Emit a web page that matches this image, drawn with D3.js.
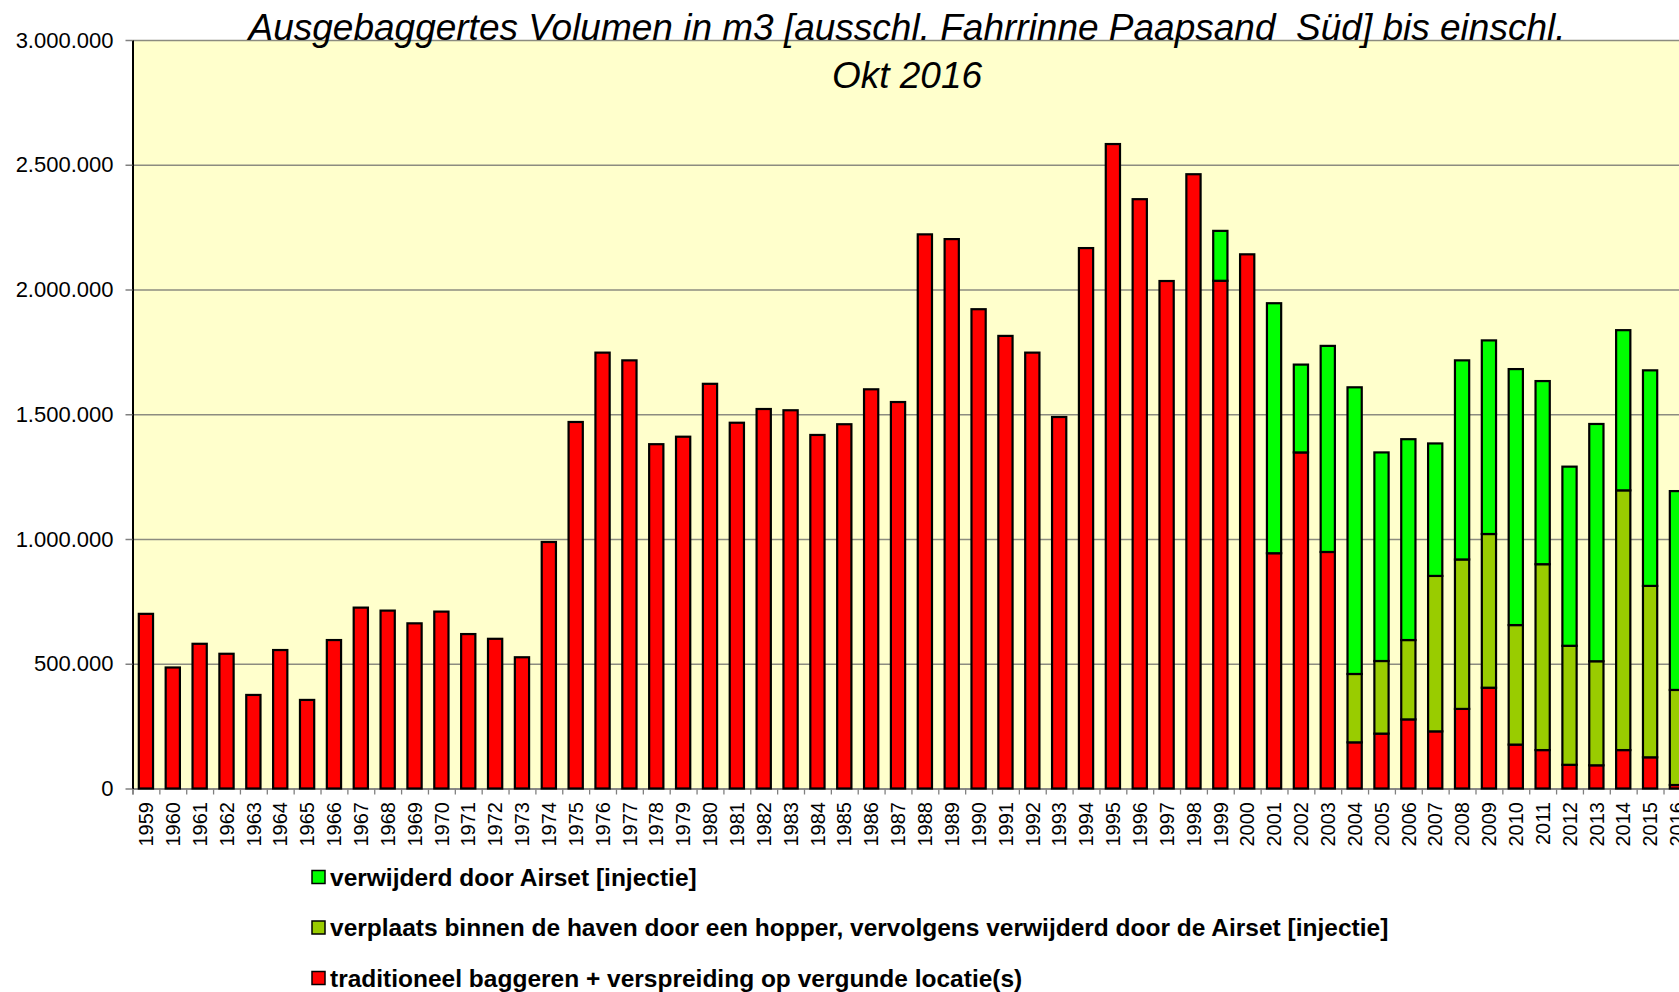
<!DOCTYPE html>
<html>
<head>
<meta charset="utf-8">
<script src="https://cdn.jsdelivr.net/npm/d3@7"></script>
<style>
    body { margin: 0; background: #ffffff; }
    svg { display: block; font-family: "Liberation Sans", Arial, sans-serif; }
</style>
</head>
<body>
<div id="chart-container"></div>
<script>
const years = [
    1959, 1960, 1961, 1962, 1963, 1964, 1965, 1966, 1967, 1968,
    1969, 1970, 1971, 1972, 1973, 1974, 1975, 1976, 1977, 1978,
    1979, 1980, 1981, 1982, 1983, 1984, 1985, 1986, 1987, 1988,
    1989, 1990, 1991, 1992, 1993, 1994, 1995, 1996, 1997, 1998,
    1999, 2000, 2001, 2002, 2003, 2004, 2005, 2006, 2007, 2008,
    2009, 2010, 2011, 2012, 2013, 2014, 2015, 2016
];

// traditioneel baggeren (red, bottom)
const traditioneel = [
    700000, 485000, 580000, 540000, 375000, 555000, 355000, 595000, 725000, 713000,
    662000, 709000, 619000, 600000, 526000, 988000, 1469000, 1747000, 1716000, 1380000,
    1410000, 1622000, 1466000, 1521000, 1516000, 1417000, 1460000, 1600000, 1549000, 2221000,
    2202000, 1921000, 1814000, 1747000, 1489000, 2166000, 2583000, 2362000, 2034000, 2462000,
    2035000, 2141000, 943000, 1347000, 948000, 185000, 220000, 277000, 229000, 319000,
    404000, 176000, 154000, 95000, 93000, 154000, 125000, 14000
];

// verplaatst door hopper (olive, middle)
const hopper = [
    0, 0, 0, 0, 0, 0, 0, 0, 0, 0,
    0, 0, 0, 0, 0, 0, 0, 0, 0, 0,
    0, 0, 0, 0, 0, 0, 0, 0, 0, 0,
    0, 0, 0, 0, 0, 0, 0, 0, 0, 0,
    0, 0, 0, 0, 0, 274000, 291000, 318000, 623000, 599000,
    616000, 479000, 745000, 477000, 417000, 1041000, 687000, 381000
];

// verwijderd door Airset (green, top)
const airset = [
    0, 0, 0, 0, 0, 0, 0, 0, 0, 0,
    0, 0, 0, 0, 0, 0, 0, 0, 0, 0,
    0, 0, 0, 0, 0, 0, 0, 0, 0, 0,
    0, 0, 0, 0, 0, 0, 0, 0, 0, 0,
    200000, 0, 1002000, 352000, 826000, 1149000, 836000, 805000, 531000, 798000,
    776000, 1026000, 734000, 718000, 951000, 642000, 864000, 797000
];

const yTicks = [0, 500000, 1000000, 1500000, 2000000, 2500000, 3000000];
const titleLines = [
    "Ausgebaggertes Volumen in m3 [ausschl. Fahrrinne Paapsand  Süd] bis einschl.",
    "Okt 2016"
];
const legendLabels = [
    "verwijderd door Airset [injectie]",
    "verplaats binnen de haven door een hopper, vervolgens verwijderd door de Airset [injectie]",
    "traditioneel baggeren + verspreiding op vergunde locatie(s)"
];

const keys = ["traditioneel", "hopper", "airset"];
const colors = { traditioneel: "#ff0000", hopper: "#99cc00", airset: "#00ff00" };

const svgWidth = 1679;
const svgHeight = 992;
const plot = { left: 132.5, right: 132.5 + 58 * 26.86, top: 40, bottom: 788.5 };

const table = years.map((y, i) => ({
    year: y,
    traditioneel: traditioneel[i],
    hopper: hopper[i],
    airset: airset[i]
}));

const svg = d3.select("#chart-container")
    .append("svg")
    .attr("width", svgWidth)
    .attr("height", svgHeight);

const x = d3.scaleBand()
    .domain(years)
    .range([plot.left, plot.right])
    .paddingInner(0.47)
    .paddingOuter(0.235);

const xEdge = d3.scaleLinear()
    .domain([0, years.length])
    .range([plot.left, plot.right]);

const y = d3.scaleLinear()
    .domain([0, 3000000])
    .range([plot.bottom, plot.top]);

const nl = d3.formatLocale({ decimal: ",", thousands: ".", grouping: [3], currency: ["", ""] });

// plot background
svg.append("rect")
    .attr("x", plot.left)
    .attr("y", plot.top)
    .attr("width", plot.right - plot.left)
    .attr("height", plot.bottom - plot.top)
    .attr("fill", "#ffffcc");

// gridlines
svg.append("g")
    .attr("transform", `translate(${plot.left},0)`)
    .call(d3.axisRight(y).tickValues(yTicks).tickSize(plot.right - plot.left).tickFormat(""))
    .call(g => g.select(".domain").remove())
    .call(g => g.selectAll("line").attr("stroke", "#8c8c80").attr("stroke-width", 1.6));

// x axis tick marks between categories
svg.append("g")
    .attr("transform", `translate(0,${plot.bottom})`)
    .call(d3.axisBottom(xEdge).tickValues(d3.range(years.length + 1)).tickSize(6).tickFormat(""))
    .call(g => g.select(".domain").attr("stroke", "#808080").attr("stroke-width", 1.6))
    .call(g => g.selectAll("line").attr("stroke", "#808080").attr("stroke-width", 1.3));

// bars
const stacked = d3.stack().keys(keys)(table);
svg.append("g")
    .selectAll("g")
    .data(stacked)
    .join("g")
    .attr("fill", d => colors[d.key])
    .selectAll("rect")
    .data(d => d.filter(s => s[1] - s[0] > 0))
    .join("rect")
    .attr("x", d => x(d.data.year))
    .attr("width", x.bandwidth())
    .attr("y", d => y(d[1]))
    .attr("height", d => y(d[0]) - y(d[1]))
    .attr("stroke", "#000")
    .attr("stroke-width", 2.2);

// x labels
svg.append("g")
    .attr("transform", `translate(0,${plot.bottom})`)
    .call(d3.axisBottom(x).tickSize(0))
    .call(g => g.select(".domain").remove())
    .call(g => g.selectAll("text")
        .attr("transform", "rotate(-90)")
        .attr("text-anchor", "end")
        .attr("x", -13.5)
        .attr("y", 0)
        .attr("dy", "0.36em")
        .attr("font-size", 20)
        .attr("font-family", "Liberation Sans, Arial, sans-serif")
        .attr("fill", "#000"));

// y axis
svg.append("g")
    .attr("transform", `translate(${plot.left},0)`)
    .call(d3.axisLeft(y).tickValues(yTicks).tickSize(7).tickSizeOuter(0).tickPadding(12)
        .tickFormat(nl.format(",")))
    .call(g => g.select(".domain").attr("stroke", "#000").attr("stroke-width", 2))
    .call(g => g.selectAll("line").attr("stroke", "#808080").attr("stroke-width", 1.5))
    .call(g => g.selectAll("text")
        .attr("font-size", 22)
        .attr("font-family", "Liberation Sans, Arial, sans-serif")
        .attr("fill", "#000"));

// title
svg.append("g")
    .selectAll("text")
    .data(titleLines)
    .join("text")
    .attr("x", 907)
    .attr("y", (d, i) => 39.5 + i * 48)
    .attr("text-anchor", "middle")
    .attr("font-size", 37)
    .attr("font-style", "italic")
    .attr("fill", "#000")
    .style("white-space", "pre")
    .text(d => d);

// legend
const legendKeys = ["airset", "hopper", "traditioneel"];
const legend = svg.append("g")
    .selectAll("g")
    .data(legendLabels)
    .join("g")
    .attr("transform", (d, i) => `translate(312,${877 + i * 50.5})`);

legend.append("rect")
    .attr("x", 0)
    .attr("y", -6.5)
    .attr("width", 13)
    .attr("height", 13)
    .attr("fill", (d, i) => colors[legendKeys[i]])
    .attr("stroke", "#000")
    .attr("stroke-width", 1.5);

legend.append("text")
    .attr("x", 18)
    .attr("y", 8.5)
    .attr("font-size", 24.5)
    .attr("font-weight", "bold")
    .attr("fill", "#000")
    .text(d => d);
</script>
</body>
</html>
